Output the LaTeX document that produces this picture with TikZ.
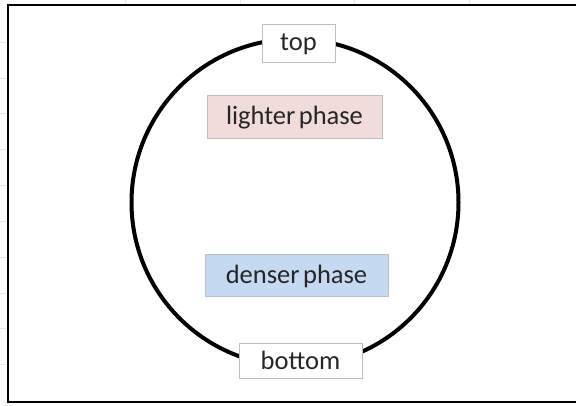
\documentclass[tikz,border=0pt]{standalone}
\usepackage{fontspec}
\setmainfont{Carlito}
\usetikzlibrary{positioning}

\definecolor{lightpink}{HTML}{F2DCDB}
\definecolor{lightblue}{HTML}{C5D9F1}
\definecolor{boxgray}{HTML}{BFBFBF}
\definecolor{gridgray}{HTML}{E6E6E6}

\begin{document}
\begin{tikzpicture}[x=1pt, y=-1pt,
        phasebox/.style={rectangle, text=black!85, draw=boxgray, line width=1pt, inner sep=0pt, font=\fontsize{26.5}{30}\selectfont},
        endbox/.style={phasebox, fill=white},
        lighterbox/.style={phasebox, fill=lightpink},
        denserbox/.style={phasebox, fill=lightblue},
]
        \useasboundingbox (0,0) rectangle (576,406);
        \clip (0,0) rectangle (576,406);

        % faint sheet grid peeking out
        \foreach \gx in {125,240,354,469}
                \draw[gridgray, line width=0.6pt] (\gx,0) -- (\gx,4);
        \foreach \gy in {42,78,113,149,185,221,257,293,328,364}
                \draw[gridgray, line width=0.6pt] (0,\gy) -- (6,\gy);

        % frame
        \draw[black, line width=2.5pt] (590,5) -- (8,5) -- (8,402) -- (590,402);

        % ring
        \node[circle, draw=black, line width=4pt, minimum size=327pt, inner sep=0pt] (ring) at (295,202.5) {};

        \node[endbox, minimum width=73pt, minimum height=38pt] (top) at (298.5,44) {top};
        \node[lighterbox, minimum width=175pt, minimum height=43pt] (lighter) at (294.5,117.5) {lighter\kern-2.5pt\ phase};
        \node[denserbox, minimum width=183pt, minimum height=42pt] (denser) at (296.5,276) {denser\kern-2.5pt\ phase};
        \node[endbox, minimum width=123pt, minimum height=35pt] (bottom) at (300.5,360.5) {bottom};
\end{tikzpicture}
\end{document}
